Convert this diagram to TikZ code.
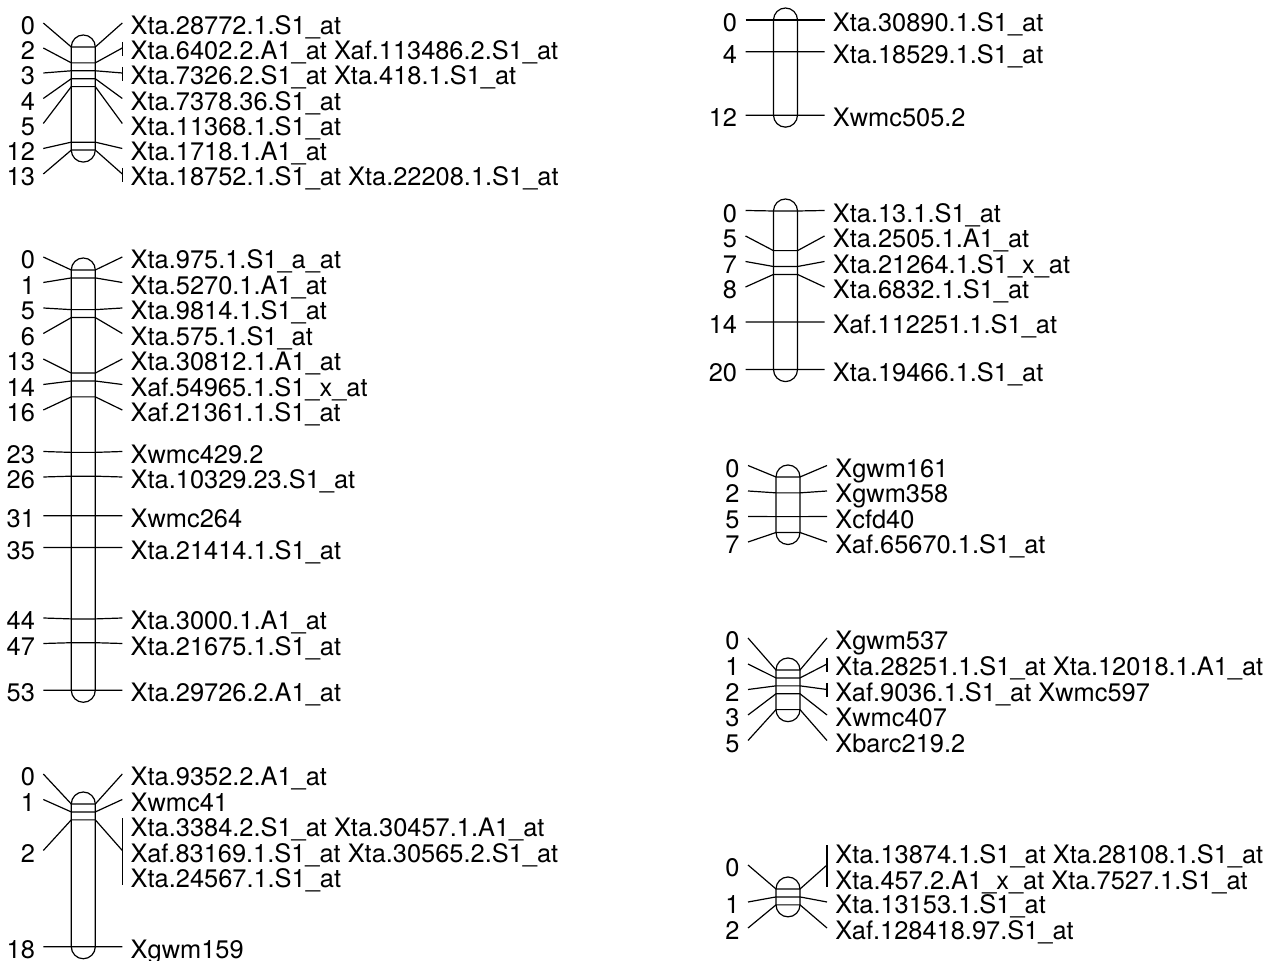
\documentclass[tikz,border=0pt]{standalone}
\usepackage{fontspec}
\setmainfont{TeX Gyre Heros}

\tikzset{
	mapline/.style={line width=0.6pt},
	chrom/.style={draw, line width=0.6pt, rounded corners=6pt,
		minimum width=12pt, inner sep=0pt},
	cmlabel/.style={inner xsep=4pt, inner ysep=0pt, text height=11.6pt,
		text depth=0pt, font=\fontsize{12.7}{12.7}\selectfont},
}

% chromosome: name, centre x, top y, length in cM
\newcommand{\chromosome}[4]{%
	\def\chromx{#2}\def\chromtop{#3}%
	\node[chrom, minimum height={(#4*7.93+24)*0.5pt}] (#1)
		at (#2,{#3+#4*7.93/2}) {};
}

% locus: name, position in cM, label y, label text
\newcommand{\locus}[4]{%
	\coordinate (#1l) at (\chromx-12,{\chromtop+#2*7.93});
	\coordinate (#1r) at (\chromx+12,{\chromtop+#2*7.93});
	\node[cmlabel, anchor=east] (#1n) at (\chromx-40,#3) {#2};
	\node[cmlabel, anchor=west] (#1t) at (\chromx+39,#3) {#4};
	\draw[mapline] (#1n.east) -- (#1l) -- (#1r) -- (#1t.west);
}

% extra label line of a locus group: name, label y, label text
\newcommand{\locusline}[3]{%
	\node[cmlabel, anchor=west] (#1) at (\chromx+39,#2) {#3};
}

\begin{document}
\begin{tikzpicture}[x=0.5pt, y=-0.5pt]
\useasboundingbox (0,0) rectangle (1274,961);

% Left column, first map
\chromosome{A}{83.3}{47}{13}
\locus{A0}{0}{23}{Xta.28772.1.S1\_at}
\locus{A2}{2}{48}{Xta.6402.2.A1\_at Xaf.113486.2.S1\_at}
\locus{A3}{3}{73}{Xta.7326.2.S1\_at Xta.418.1.S1\_at}
\locus{A4}{4}{98.5}{Xta.7378.36.S1\_at}
\locus{A5}{5}{123.5}{Xta.11368.1.S1\_at}
\locus{A12}{12}{148.5}{Xta.1718.1.A1\_at}
\locus{A13}{13}{174}{Xta.18752.1.S1\_at Xta.22208.1.S1\_at}
\draw[mapline] ([yshift=3pt]A2t.west) -- ([yshift=-4pt]A2t.west);
\draw[mapline] ([yshift=3pt]A3t.west) -- ([yshift=-4pt]A3t.west);
\draw[mapline] ([yshift=3pt]A13t.west) -- ([yshift=-4pt]A13t.west);

% Left column, second map
\chromosome{B}{83.3}{270}{53}
\locus{B0}{0}{257}{Xta.975.1.S1\_a\_at}
\locus{B1}{1}{282.5}{Xta.5270.1.A1\_at}
\locus{B5}{5}{308}{Xta.9814.1.S1\_at}
\locus{B6}{6}{333.5}{Xta.575.1.S1\_at}
\locus{B13}{13}{359}{Xta.30812.1.A1\_at}
\locus{B14}{14}{384.5}{Xaf.54965.1.S1\_x\_at}
\locus{B16}{16}{410}{Xaf.21361.1.S1\_at}
\locus{B23}{23}{451.5}{Xwmc429.2}
\locus{B26}{26}{477}{Xta.10329.23.S1\_at}
\locus{B31}{31}{515.8}{Xwmc264}
\locus{B35}{35}{547.6}{Xta.21414.1.S1\_at}
\locus{B44}{44}{618}{Xta.3000.1.A1\_at}
\locus{B47}{47}{643.5}{Xta.21675.1.S1\_at}
\locus{B53}{53}{690.3}{Xta.29726.2.A1\_at}

% Left column, third map
\chromosome{C}{83.3}{804}{18}
\locus{C0}{0}{774}{Xta.9352.2.A1\_at}
\locus{C1}{1}{799.5}{Xwmc41}
\locus{C2}{2}{850.5}{Xaf.83169.1.S1\_at Xta.30565.2.S1\_at}
\locusline{C2a}{825}{Xta.3384.2.S1\_at Xta.30457.1.A1\_at}
\locusline{C2b}{876}{Xta.24567.1.S1\_at}
\draw[mapline] ([yshift=3.5pt]C2a.west) -- ([yshift=-4.5pt]C2b.west);
\locus{C18}{18}{946.7}{Xgwm159}

% Right column, first map
\chromosome{D}{785.5}{20}{12}
\locus{D0}{0}{20}{Xta.30890.1.S1\_at}
\locus{D4}{4}{51.7}{Xta.18529.1.S1\_at}
\locus{D12}{12}{115.2}{Xwmc505.2}

% Right column, second map
\chromosome{E}{785.5}{211}{20}
\locus{E0}{0}{210.5}{Xta.13.1.S1\_at}
\locus{E5}{5}{236}{Xta.2505.1.A1\_at}
\locus{E7}{7}{261.5}{Xta.21264.1.S1\_x\_at}
\locus{E8}{8}{287}{Xta.6832.1.S1\_at}
\locus{E14}{14}{322}{Xaf.112251.1.S1\_at}
\locus{E20}{20}{369.6}{Xta.19466.1.S1\_at}

% Right column, third map
\chromosome{F}{788}{477}{7}
\locus{F0}{0}{465.5}{Xgwm161}
\locus{F2}{2}{491}{Xgwm358}
\locus{F5}{5}{516.5}{Xcfd40}
\locus{F7}{7}{542}{Xaf.65670.1.S1\_at}

% Right column, fourth map
\chromosome{G}{788}{670}{5}
\locus{G0}{0}{638}{Xgwm537}
\locus{G1}{1}{664}{Xta.28251.1.S1\_at Xta.12018.1.A1\_at}
\locus{G2}{2}{689.5}{Xaf.9036.1.S1\_at Xwmc597}
\locus{G3}{3}{715}{Xwmc407}
\locus{G5}{5}{740.5}{Xbarc219.2}
\draw[mapline] ([yshift=3pt]G1t.west) -- ([yshift=-4pt]G1t.west);
\draw[mapline] ([yshift=3pt]G2t.west) -- ([yshift=-4pt]G2t.west);

% Right column, fifth map
\chromosome{H}{788}{889}{2}
\locus{H0}{0}{865}{}
\locusline{H0a}{852.3}{Xta.13874.1.S1\_at Xta.28108.1.S1\_at}
\locusline{H0b}{877.7}{Xta.457.2.A1\_x\_at Xta.7527.1.S1\_at}
\draw[mapline] ([yshift=3.5pt]H0a.west) -- ([yshift=-4.5pt]H0b.west);
\locus{H1}{1}{902}{Xta.13153.1.S1\_at}
\locus{H2}{2}{928}{Xaf.128418.97.S1\_at}

\end{tikzpicture}
\end{document}
